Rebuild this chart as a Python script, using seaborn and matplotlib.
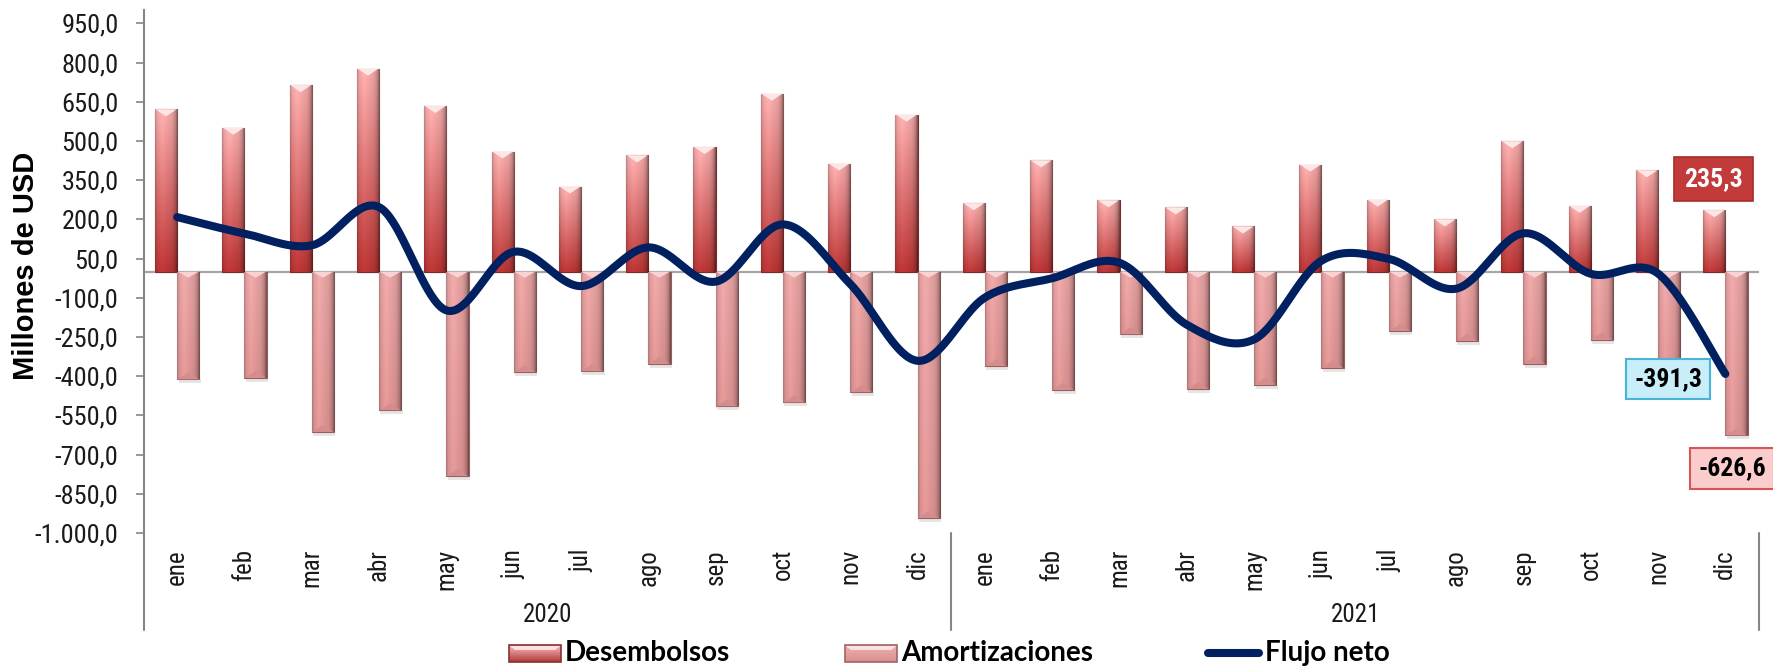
import numpy as np
import pandas as pd
import matplotlib
matplotlib.use("Agg")
import matplotlib.pyplot as plt
import matplotlib.transforms as mtransforms
from matplotlib.patches import Polygon, Rectangle
from matplotlib import font_manager as fm
import seaborn as sns

# ---- data -------------------------------------------------------------
years = ["2020", "2021"]
months = ["ene", "feb", "mar", "abr", "may", "jun",
          "jul", "ago", "sep", "oct", "nov", "dic"]
desembolsos = [621, 551, 714, 777, 634, 460, 326, 445, 477, 681, 414, 601,
               262, 426, 273, 246, 173, 410, 276, 200, 499, 252, 388, 235.3]
amortizaciones = [-412, -405, -613, -530, -782, -384, -381, -352, -515, -500, -461, -942,
                  -361, -451, -239, -449, -432, -368, -227, -265, -352, -260, -395, -626.6]
flujo_neto = [209, 146, 101, 247, -148, 76, -55, 93, -38, 181, -47, -341,
              -99, -25, 34, -203, -259, 42, 49, -65, 147, -8, -7, -391.3]
y_ticks = list(range(-1000, 951, 150))

# ---- fonts ------------------------------------------------------------
sns.set_theme(style="white")
installed = {f.name for f in fm.fontManager.ttflist}
narrow_candidates = ["Liberation Sans Narrow", "Arial Narrow", "Roboto Condensed",
                     "Open Sans Condensed", "Liberation Sans"]
NARROW = next(f for f in narrow_candidates if f in installed or f == "Liberation Sans")
IS_NARROW = NARROW != "Liberation Sans"
plt.rcParams["font.family"] = [NARROW, "DejaVu Sans"]
LEG_FONT = ["Lato", "DejaVu Sans"]
TICK_FS = 19 if IS_NARROW else 16.5
CAT_FS = 18 if IS_NARROW else 16.5
LAB_FS = 18.5 if IS_NARROW else 16.5

W, H = 1773, 666
fig = plt.figure(figsize=(W / 100, H / 100), dpi=100)
ax = fig.add_axes([143.5 / W, (H - 533) / H, (1759 - 143.5) / W, (533 - 10.4) / H])

keys = [f"{y}-{m}" for y in years for m in months]
df = pd.DataFrame({
    "mes": keys * 2,
    "valor": desembolsos + amortizaciones,
    "serie": ["Desembolsos"] * 24 + ["Amortizaciones"] * 24,
})

sns.barplot(data=df, x="mes", y="valor", hue="serie", order=keys,
            hue_order=["Desembolsos", "Amortizaciones"],
            palette={"Desembolsos": "#d66a6a", "Amortizaciones": "#e39c9c"},
            width=0.66, dodge=True, gap=0, errorbar=None, legend=False,
            saturation=1, ax=ax, zorder=3)

ax.axhline(0, color="#a6a6a6", lw=1.6, zorder=2)


def hex2rgb(h):
    h = h.lstrip("#")
    return np.array([int(h[i:i + 2], 16) / 255 for i in (0, 2, 4)])


def shade_profile(n):
    u = np.linspace(0, 1, n)
    return np.interp(u, [0, 0.08, 0.3, 0.75, 0.9, 1.0], [0.82, 0.97, 1.06, 0.95, 0.80, 0.52])


def fill_gradient(patch, c_far, c_near, zorder):
    x0, y0 = patch.get_x(), patch.get_y()
    w, h = patch.get_width(), patch.get_height()
    nv, nh = 64, 24
    t = np.linspace(0, 1, nv)[:, None, None]  # 0 at baseline, 1 at bar end
    col = (1 - t) * hex2rgb(c_near) + t * hex2rgb(c_far)
    col = np.clip(col * shade_profile(nh)[None, :, None], 0, 1)
    if h >= 0:
        ext = [x0, x0 + w, y0, y0 + h]
        origin = "lower"
    else:
        ext = [x0, x0 + w, y0 + h, y0]
        origin = "upper"
    im = ax.imshow(col, extent=ext, origin=origin, aspect="auto",
                   interpolation="bilinear", zorder=zorder)
    im.set_clip_path(patch)


px = 3.83  # value units per pixel on the y axis
des_bars = ax.containers[0]
amo_bars = ax.containers[1]

for p in des_bars:
    p.set_edgecolor("#7a2c2c")
    p.set_linewidth(0.8)
    fill_gradient(p, "#f5aaaa", "#b83434", 3.1)
    x0, w, top = p.get_x(), p.get_width(), p.get_y() + p.get_height()
    ax.add_patch(Polygon([[x0 + 0.01, top], [x0 + w - 0.01, top], [x0 + w / 2, top - 7 * px]],
                         closed=True, fc="#fde6e6", ec="none", zorder=3.3))

for p in amo_bars:
    p.set_edgecolor("#9a5c5c")
    p.set_linewidth(0.8)
    fill_gradient(p, "#dc9292", "#e6a2a2", 3.1)
    x0, w, bot = p.get_x(), p.get_width(), p.get_y() + p.get_height()
    ax.add_patch(Polygon([[x0 + 0.01, 0], [x0 + w - 0.01, 0], [x0 + w / 2, -6 * px]],
                         closed=True, fc="#f9d3d3", ec="none", zorder=3.3))
    ax.add_patch(Polygon([[x0 + 0.01, bot], [x0 + w - 0.01, bot], [x0 + w / 2, bot + 7 * px]],
                         closed=True, fc="#d48c8c", ec="none", zorder=3.3))
    ax.add_patch(Rectangle((x0 + 0.02, bot - 4 * px), w, 4 * px, fc="#000000",
                           alpha=0.10, ec="none", zorder=2.9))


# smoothed net-flow line (Bezier segments through every monthly value)
def smooth_path(xs, ys, n=40):
    P = np.column_stack([xs, ys]).astype(float)
    P = np.vstack([P[0], P, P[-1]])
    segs = []
    t = np.linspace(0, 1, n, endpoint=False)[:, None]
    for i in range(1, len(P) - 2):
        p0, p1, p2, p3 = P[i - 1], P[i], P[i + 1], P[i + 2]
        c1 = p1 + (p2 - p0) / 6
        c2 = p2 - (p3 - p1) / 6
        segs.append((1 - t) ** 3 * p1 + 3 * (1 - t) ** 2 * t * c1
                    + 3 * (1 - t) * t ** 2 * c2 + t ** 3 * p2)
    segs.append(P[-2][None, :])
    return np.vstack(segs)


curve = smooth_path(np.arange(24), flujo_neto)
ax.plot(curve[:, 0], curve[:, 1], color="#002060", lw=5.8,
        solid_capstyle="round", zorder=5)

# ---- axes styling -----------------------------------------------------
ax.set_xlim(-0.5, 23.5)
ax.set_ylim(-1000, 1000)
ax.set_yticks(y_ticks)


def fmt(v):
    s = f"{v:,.1f}"
    return s.replace(",", "X").replace(".", ",").replace("X", ".")


ax.set_yticklabels([fmt(v) for v in y_ticks], fontsize=TICK_FS, color="#1a1a1a")
ax.set_xticks(range(24))
ax.set_xticklabels(months * 2, rotation=90, fontsize=CAT_FS, color="#1a1a1a")
ax.tick_params(axis="x", length=0, pad=11.5)
ax.tick_params(axis="y", direction="out", length=6, width=1.2, color="#868686",
               pad=12, left=True)
ax.set_xlabel("")
ax.set_ylabel("")
for s in ["top", "right", "bottom"]:
    ax.spines[s].set_visible(False)
ax.spines["left"].set_color("#868686")
ax.spines["left"].set_linewidth(1.5)
ax.grid(False)

# category separators and year labels below the plot
blend = mtransforms.blended_transform_factory(ax.transData, fig.transFigure)
for xs in [-0.5, 11.5, 23.5]:
    ax.plot([xs, xs], [(H - 533) / H, (H - 630) / H], transform=blend,
            color="#868686", lw=1.5, clip_on=False, zorder=1)
for i, y in enumerate(years):
    ax.text(5.5 + 12 * i, (H - 615) / H, y, transform=blend, ha="center",
            va="center", fontsize=CAT_FS, color="#1a1a1a")

fig.text(26 / W, 1 - 265.5 / H, "Millones de USD", rotation=90, ha="center",
         va="center", fontsize=21, fontweight="bold",
         family=["Liberation Sans", "DejaVu Sans"], color="#000000")

# value call-outs for the last month
ax.text(22.82, 354, fmt(desembolsos[-1]), ha="center", va="center", fontsize=LAB_FS,
        fontweight="bold", color="white", zorder=7,
        bbox=dict(boxstyle="square,pad=0.4", fc="#c23a3a", ec="#a52c2c", lw=1.2))
ax.text(22.15, -410, fmt(flujo_neto[-1]), ha="center", va="center", fontsize=LAB_FS,
        fontweight="bold", color="#000000", zorder=7,
        bbox=dict(boxstyle="square,pad=0.32", fc="#c8eefa", ec="#48b4d6", lw=1.5))
ax.text(23.60, -753, fmt(amortizaciones[-1]), ha="right", va="center", fontsize=LAB_FS,
        fontweight="bold", color="#000000", zorder=7, clip_on=False,
        bbox=dict(boxstyle="square,pad=0.32", fc="#fbcccc", ec="#d65656", lw=1.5))

# ---- legend -----------------------------------------------------------
lg = fig.add_axes([0, 0, 1, 1], zorder=10)
lg.set_xlim(0, W)
lg.set_ylim(H, 0)
lg.axis("off")
lg.patch.set_alpha(0)


def legend_box(x0, x1, y0, y1, top, bottom, edge):
    n = 32
    t = np.linspace(0, 1, n)[:, None, None]
    col = (1 - t) * hex2rgb(top) + t * hex2rgb(bottom)
    img = np.broadcast_to(col, (n, 8, 3))
    lg.imshow(img, extent=[x0, x1, y1, y0], aspect="auto", interpolation="bilinear")
    lg.add_patch(Rectangle((x0, y0), x1 - x0, y1 - y0, fc="none", ec=edge, lw=1.2))
    lg.add_patch(Polygon([[x0 + 1, y0 + 1], [x1 - 1, y0 + 1], [x1 - 6, y0 + 5], [x0 + 6, y0 + 5]],
                         closed=True, fc="#fff0f0", ec="none", alpha=0.8))


legend_box(509, 561, 645, 662, "#f6bcbc", "#b53a3a", "#8a3030")
lg.text(565, 653, "Desembolsos", ha="left", va="center", fontsize=20,
        fontweight="bold", family=LEG_FONT, color="#000000")
legend_box(845, 897, 645, 662, "#eeb2b2", "#d88e8e", "#a06464")
lg.text(901, 653, "Amortizaciones", ha="left", va="center", fontsize=20,
        fontweight="bold", family=LEG_FONT, color="#000000")
lg.plot([1208, 1259], [653, 653], color="#002060", lw=5.8, solid_capstyle="round")
lg.text(1265, 653, "Flujo neto", ha="left", va="center", fontsize=20,
        fontweight="bold", family=LEG_FONT, color="#000000")
lg.set_xlim(0, W)
lg.set_ylim(H, 0)

fig.savefig("out.png", dpi=100)
